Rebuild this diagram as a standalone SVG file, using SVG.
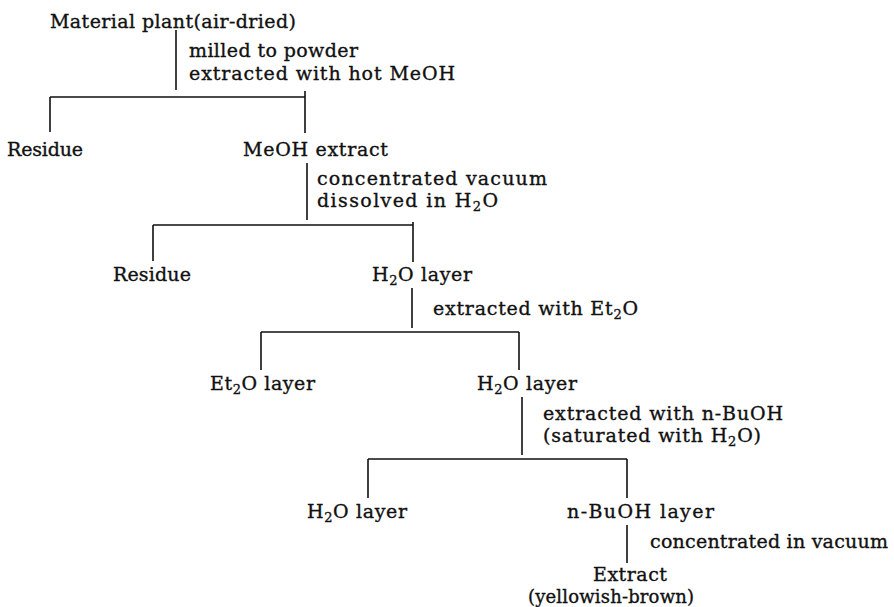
<svg xmlns="http://www.w3.org/2000/svg" width="894" height="607" viewBox="0 0 894 607">
<style>
text{font-family:"DejaVu Serif","Liberation Serif",serif;font-size:19px;fill:#111;stroke:#111;stroke-width:0.35}
.sub{font-size:13px}
.ln{stroke:#111;stroke-width:1.6;fill:none}
</style>
<rect width="894" height="607" fill="#fff"/>
<g id="connectors" class="ln">
<path d="M176 30V90"/>
<path d="M50 97H305M50 97V132M305 91V133"/>
<path d="M307 163V220"/>
<path d="M153 225H413M153 225V261M413 222V262"/>
<path d="M412 288V328"/>
<path d="M261 332H519M261 332V370M519 332V370"/>
<path d="M522 397V455"/>
<path d="M368 459H627M368 459V498M627 459V498"/>
<path d="M627 525V563"/>
</g>
<g id="step-labels">
<text x="189" y="57" textLength="169" lengthAdjust="spacing">milled to powder</text>
<text x="189" y="80" textLength="266" lengthAdjust="spacing">extracted with hot MeOH</text>
<text x="317" y="185" textLength="230" lengthAdjust="spacing">concentrated vacuum</text>
<text x="317" y="207" textLength="181" lengthAdjust="spacing">dissolved in H<tspan class="sub" dy="4">2</tspan><tspan dy="-4">O</tspan></text>
<text x="433" y="315" textLength="205" lengthAdjust="spacing">extracted with Et<tspan class="sub" dy="4">2</tspan><tspan dy="-4">O</tspan></text>
<text x="543" y="420" textLength="240" lengthAdjust="spacing">extracted with n-BuOH</text>
<text x="543" y="442" textLength="218" lengthAdjust="spacing">(saturated with H<tspan class="sub" dy="4">2</tspan><tspan dy="-4">O)</tspan></text>
<text x="650" y="548" textLength="238" lengthAdjust="spacing">concentrated in vacuum</text>
</g>
<g id="material"><text x="50" y="28" textLength="246" lengthAdjust="spacing">Material plant(air-dried)</text></g>
<g id="residue1"><text x="7" y="156" textLength="76" lengthAdjust="spacing">Residue</text></g>
<g id="meoh-extract"><text x="243" y="156" textLength="145" lengthAdjust="spacing">MeOH extract</text></g>
<g id="residue2"><text x="113" y="281" textLength="78" lengthAdjust="spacing">Residue</text></g>
<g id="h2o-layer1"><text x="372" y="281" textLength="100" lengthAdjust="spacing">H<tspan class="sub" dy="4">2</tspan><tspan dy="-4">O layer</tspan></text></g>
<g id="et2o-layer"><text x="210" y="390" textLength="105" lengthAdjust="spacing">Et<tspan class="sub" dy="4">2</tspan><tspan dy="-4">O layer</tspan></text></g>
<g id="h2o-layer2"><text x="477" y="390" textLength="100" lengthAdjust="spacing">H<tspan class="sub" dy="4">2</tspan><tspan dy="-4">O layer</tspan></text></g>
<g id="h2o-layer3"><text x="307" y="518" textLength="100" lengthAdjust="spacing">H<tspan class="sub" dy="4">2</tspan><tspan dy="-4">O layer</tspan></text></g>
<g id="buoh-layer"><text x="567" y="518" textLength="147" lengthAdjust="spacing">n-BuOH layer</text></g>
<g id="extract"><text x="593" y="581" textLength="74" lengthAdjust="spacing">Extract</text><text x="528" y="603" style="font-size:18px" textLength="166" lengthAdjust="spacing">(yellowish-brown)</text></g>
</svg>
